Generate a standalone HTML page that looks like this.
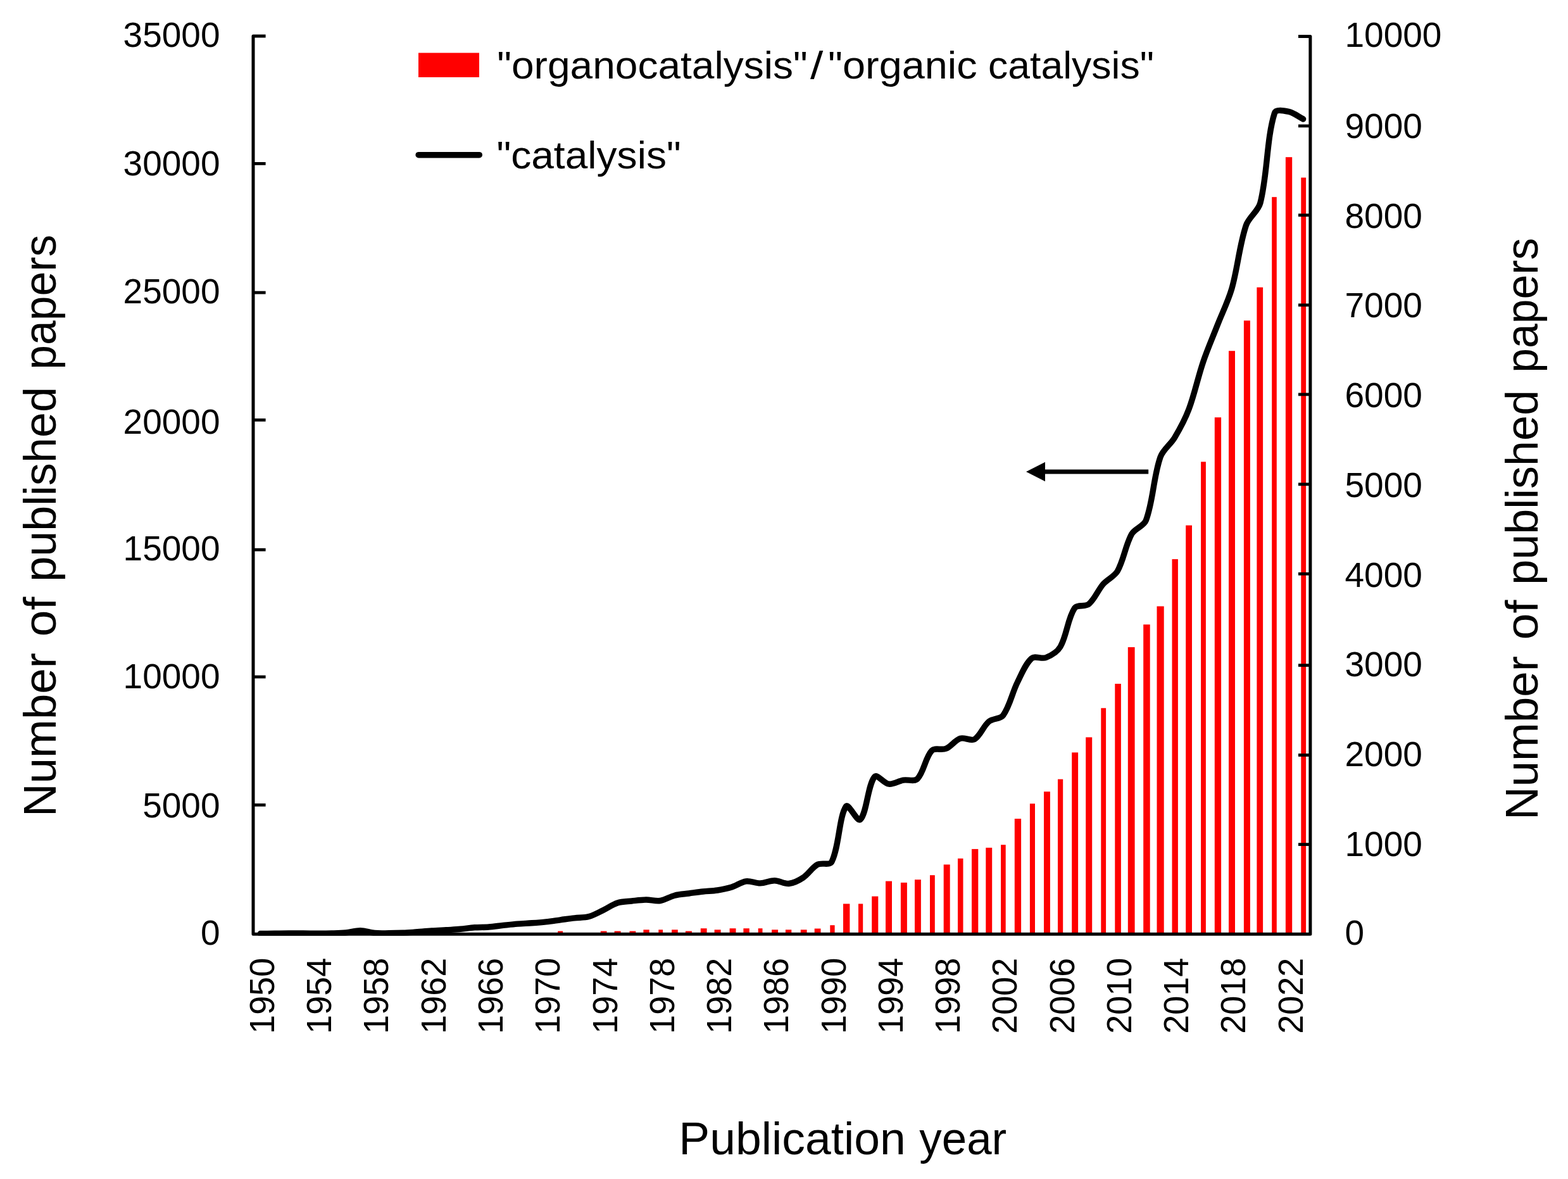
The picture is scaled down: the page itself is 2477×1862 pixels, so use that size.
<!DOCTYPE html>
<html lang="en">
<head>
<meta charset="utf-8">
<title>Publications per year: catalysis vs organocatalysis</title>
<style>
html,body{margin:0;padding:0;background:#fff;}
body{width:2477px;height:1862px;overflow:hidden;}
svg{display:block;filter:blur(0.5px);}
svg text{font-family:"Liberation Sans",sans-serif;fill:#000;}
.tick{font-size:55px;}
.title{font-size:72px;}
.legend{font-size:61px;}
</style>
</head>
<body>
<svg width="2477" height="1862" viewBox="0 0 2477 1862" role="img" aria-label="Number of published papers per publication year">
<rect x="0" y="0" width="2477" height="1862" fill="#ffffff"/>
<g fill="#ff0000" shape-rendering="auto">
<rect x="881.2" y="1470.5" width="7.9" height="4.8"/>
<rect x="948.8" y="1470.5" width="9.7" height="4.8"/>
<rect x="970.6" y="1470.5" width="10.0" height="4.8"/>
<rect x="994.5" y="1470.5" width="9.8" height="4.8"/>
<rect x="1016.4" y="1468.3" width="9.3" height="7.0"/>
<rect x="1040.3" y="1468.3" width="6.8" height="7.0"/>
<rect x="1061.1" y="1468.3" width="9.7" height="7.0"/>
<rect x="1082.9" y="1470.5" width="10.0" height="4.8"/>
<rect x="1106.8" y="1466.2" width="9.8" height="9.1"/>
<rect x="1128.6" y="1468.3" width="10.0" height="7.0"/>
<rect x="1152.6" y="1466.2" width="9.9" height="9.1"/>
<rect x="1174.4" y="1466.2" width="9.4" height="9.1"/>
<rect x="1197.7" y="1466.2" width="6.8" height="9.1"/>
<rect x="1219.1" y="1468.3" width="10.0" height="7.0"/>
<rect x="1240.9" y="1468.3" width="9.4" height="7.0"/>
<rect x="1264.8" y="1468.3" width="9.8" height="7.0"/>
<rect x="1286.7" y="1466.5" width="9.8" height="8.8"/>
<rect x="1311.3" y="1461.2" width="7.3" height="14.1"/>
<rect x="1332.0" y="1427.4" width="10.4" height="47.9"/>
<rect x="1356.0" y="1427.4" width="7.2" height="47.9"/>
<rect x="1377.2" y="1415.6" width="10.1" height="59.7"/>
<rect x="1399.0" y="1391.6" width="10.0" height="83.7"/>
<rect x="1422.9" y="1393.9" width="10.0" height="81.4"/>
<rect x="1445.0" y="1389.2" width="9.9" height="86.1"/>
<rect x="1469.0" y="1382.2" width="7.8" height="93.1"/>
<rect x="1490.7" y="1365.4" width="10.0" height="109.9"/>
<rect x="1513.0" y="1355.8" width="8.5" height="119.5"/>
<rect x="1535.0" y="1340.9" width="10.3" height="134.4"/>
<rect x="1557.3" y="1338.8" width="9.9" height="136.5"/>
<rect x="1581.1" y="1334.2" width="7.6" height="141.1"/>
<rect x="1602.8" y="1293.0" width="10.3" height="182.3"/>
<rect x="1626.9" y="1269.2" width="8.1" height="206.1"/>
<rect x="1649.0" y="1250.2" width="9.9" height="225.1"/>
<rect x="1671.0" y="1230.6" width="8.2" height="244.7"/>
<rect x="1693.2" y="1188.4" width="9.9" height="286.9"/>
<rect x="1715.2" y="1164.4" width="10.0" height="310.9"/>
<rect x="1739.3" y="1118.3" width="7.8" height="357.0"/>
<rect x="1761.3" y="1079.9" width="9.6" height="395.4"/>
<rect x="1781.8" y="1022.1" width="10.8" height="453.2"/>
<rect x="1806.2" y="986.3" width="10.5" height="489.0"/>
<rect x="1827.5" y="957.5" width="11.2" height="517.8"/>
<rect x="1851.5" y="883.1" width="9.4" height="592.2"/>
<rect x="1873.2" y="829.7" width="9.8" height="645.6"/>
<rect x="1897.1" y="729.3" width="7.8" height="746.0"/>
<rect x="1918.8" y="659.2" width="10.3" height="816.1"/>
<rect x="1941.0" y="554.2" width="10.0" height="921.1"/>
<rect x="1964.9" y="506.3" width="10.0" height="969.0"/>
<rect x="1985.4" y="453.8" width="9.7" height="1021.5"/>
<rect x="2009.2" y="311.2" width="7.6" height="1164.1"/>
<rect x="2030.9" y="248.2" width="10.3" height="1227.1"/>
<rect x="2055.3" y="280.5" width="7.8" height="1194.8"/>
</g>
<clipPath id="plotclip"><rect x="0" y="0" width="2477" height="1477.8"/></clipPath>
<path d="M411.3,1474.5 C418.8,1474.4 426.3,1474.4 433.8,1474.3 C441.4,1474.2 448.9,1474.0 456.4,1474.0 C463.9,1474.0 471.5,1474.0 479.0,1474.0 C486.5,1474.0 494.0,1474.3 501.5,1474.3 C509.1,1474.3 516.6,1474.2 524.1,1474.0 C531.6,1473.8 539.2,1473.7 546.7,1473.0 C554.2,1472.3 561.7,1469.5 569.2,1469.6 C576.8,1469.7 584.2,1472.8 591.8,1473.5 C599.3,1474.2 606.9,1473.8 614.4,1473.8 C621.9,1473.8 629.4,1473.6 636.9,1473.3 C644.5,1473.0 652.0,1472.3 659.5,1471.8 C667.0,1471.2 674.5,1470.5 682.1,1470.0 C689.6,1469.5 697.1,1469.2 704.6,1468.8 C712.2,1468.3 719.7,1468.0 727.2,1467.3 C734.7,1466.6 742.2,1465.4 749.8,1464.8 C757.3,1464.3 764.8,1464.6 772.3,1464.0 C779.9,1463.4 787.4,1462.2 794.9,1461.4 C802.4,1460.6 809.9,1459.7 817.5,1459.1 C825.0,1458.5 832.5,1458.3 840.0,1457.8 C847.6,1457.2 855.1,1456.6 862.6,1455.8 C870.1,1455.0 877.7,1453.8 885.2,1452.8 C892.7,1451.8 900.2,1450.7 907.7,1449.8 C915.2,1448.9 923.1,1449.5 930.3,1447.5 C938.1,1445.4 945.4,1441.0 952.9,1437.5 C960.5,1433.9 967.5,1428.5 975.4,1426.0 C982.6,1423.7 990.5,1423.8 998.0,1423.0 C1005.5,1422.2 1013.0,1421.1 1020.6,1421.0 C1028.1,1420.9 1035.8,1423.6 1043.1,1422.5 C1050.9,1421.3 1058.0,1416.2 1065.7,1414.2 C1073.0,1412.3 1080.7,1412.0 1088.3,1411.0 C1095.8,1410.0 1103.3,1408.8 1110.8,1408.0 C1118.3,1407.2 1126.0,1407.2 1133.4,1406.0 C1141.0,1404.8 1148.6,1403.3 1156.0,1401.0 C1163.7,1398.6 1170.8,1392.9 1178.5,1391.8 C1185.8,1390.8 1193.6,1395.1 1201.1,1394.9 C1208.7,1394.7 1216.2,1390.6 1223.7,1390.7 C1231.2,1390.8 1238.9,1396.3 1246.2,1395.5 C1254.0,1394.7 1262.1,1390.5 1268.8,1386.0 C1277.2,1380.4 1282.8,1370.2 1291.4,1365.4 C1297.8,1361.8 1310.9,1367.2 1313.9,1361.0 C1325.9,1336.6 1325.3,1290.1 1336.5,1273.5 C1340.3,1267.9 1354.5,1299.0 1359.1,1294.3 C1369.6,1283.4 1370.5,1240.5 1381.6,1226.7 C1385.6,1221.8 1396.4,1237.3 1404.2,1238.2 C1411.4,1239.1 1419.1,1233.5 1426.8,1232.1 C1434.2,1230.8 1444.6,1234.9 1449.3,1230.0 C1459.7,1219.3 1461.6,1196.4 1471.9,1185.5 C1476.6,1180.5 1487.7,1185.2 1494.5,1182.3 C1502.7,1178.8 1508.7,1168.9 1517.0,1166.2 C1523.8,1164.0 1533.8,1170.9 1539.6,1167.5 C1548.8,1162.0 1553.2,1147.0 1562.2,1139.5 C1568.3,1134.4 1580.2,1135.9 1584.7,1129.7 C1595.2,1115.3 1598.8,1094.4 1607.3,1077.5 C1613.9,1064.4 1619.9,1048.2 1629.9,1039.6 C1635.0,1035.2 1645.7,1041.2 1652.4,1038.5 C1660.8,1035.1 1670.4,1029.4 1675.0,1021.5 C1685.5,1003.3 1686.5,976.9 1697.6,960.4 C1701.5,954.4 1714.5,958.8 1720.1,954.0 C1729.5,946.1 1734.3,932.2 1742.7,922.5 C1749.3,914.9 1760.3,910.6 1765.3,902.0 C1775.4,884.2 1777.8,861.2 1787.8,843.3 C1792.8,834.4 1806.9,831.1 1810.4,821.6 C1821.9,790.7 1822.0,753.6 1833.0,722.0 C1837.0,710.2 1849.1,702.2 1855.5,691.4 C1864.1,677.0 1872.2,661.9 1878.1,646.2 C1887.2,621.9 1892.3,596.0 1900.7,571.4 C1907.3,551.8 1915.7,532.8 1923.2,513.5 C1930.7,494.3 1940.1,475.7 1945.8,456.0 C1955.2,423.2 1957.7,388.0 1968.4,356.0 C1972.7,342.9 1987.5,333.9 1990.9,320.5 C2002.6,274.7 2000.5,220.0 2013.5,178.5 C2015.5,172.0 2029.0,174.9 2036.1,176.4 C2044.0,178.1 2051.1,184.1 2058.6,188.0" fill="none" stroke="#000" stroke-width="9.4" stroke-linecap="round" stroke-linejoin="round" clip-path="url(#plotclip)"/>
<g stroke="#000" stroke-width="5.0" fill="none" stroke-linecap="butt">
<path d="M419.6,56.9 H400.0 V1475.3 H2069.9 V57.5 H2051" stroke-linejoin="round"/>
<line x1="400.0" y1="258.4" x2="419.6" y2="258.4" stroke-width="4.8"/>
<line x1="400.0" y1="462.1" x2="419.6" y2="462.1" stroke-width="4.8"/>
<line x1="400.0" y1="663.3" x2="419.6" y2="663.3" stroke-width="4.8"/>
<line x1="400.0" y1="868.2" x2="419.6" y2="868.2" stroke-width="4.8"/>
<line x1="400.0" y1="1069.0" x2="419.6" y2="1069.0" stroke-width="4.8"/>
<line x1="400.0" y1="1271.3" x2="419.6" y2="1271.3" stroke-width="4.8"/>
<line x1="2051.0" y1="198.9" x2="2069.9" y2="198.9" stroke-width="4.8"/>
<line x1="2051.0" y1="339.8" x2="2069.9" y2="339.8" stroke-width="4.8"/>
<line x1="2051.0" y1="481.8" x2="2069.9" y2="481.8" stroke-width="4.8"/>
<line x1="2051.0" y1="622.9" x2="2069.9" y2="622.9" stroke-width="4.8"/>
<line x1="2051.0" y1="764.8" x2="2069.9" y2="764.8" stroke-width="4.8"/>
<line x1="2051.0" y1="906.3" x2="2069.9" y2="906.3" stroke-width="4.8"/>
<line x1="2051.0" y1="1050.7" x2="2069.9" y2="1050.7" stroke-width="4.8"/>
<line x1="2051.0" y1="1192.5" x2="2069.9" y2="1192.5" stroke-width="4.8"/>
<line x1="2051.0" y1="1333.6" x2="2069.9" y2="1333.6" stroke-width="4.8"/>
</g>
<g class="tick">
<text x="347.5" y="74.0" text-anchor="end">35000</text>
<text x="347.5" y="277.4" text-anchor="end">30000</text>
<text x="347.5" y="479.1" text-anchor="end">25000</text>
<text x="347.5" y="684.6" text-anchor="end">20000</text>
<text x="347.5" y="885.2" text-anchor="end">15000</text>
<text x="347.5" y="1087.4" text-anchor="end">10000</text>
<text x="347.5" y="1290.9" text-anchor="end">5000</text>
<text x="347.5" y="1492.0" text-anchor="end">0</text>
<text x="2124.5" y="74.0" text-anchor="start">10000</text>
<text x="2124.5" y="218.3" text-anchor="start">9000</text>
<text x="2124.5" y="359.7" text-anchor="start">8000</text>
<text x="2124.5" y="501.4" text-anchor="start">7000</text>
<text x="2124.5" y="642.8" text-anchor="start">6000</text>
<text x="2124.5" y="784.8" text-anchor="start">5000</text>
<text x="2124.5" y="926.5" text-anchor="start">4000</text>
<text x="2124.5" y="1067.8" text-anchor="start">3000</text>
<text x="2124.5" y="1210.1" text-anchor="start">2000</text>
<text x="2124.5" y="1351.5" text-anchor="start">1000</text>
<text x="2124.5" y="1492.0" text-anchor="start">0</text>
<text transform="translate(432.9,1512.8) rotate(-90)" text-anchor="end" textLength="120" lengthAdjust="spacingAndGlyphs">1950</text>
<text transform="translate(523.1,1512.8) rotate(-90)" text-anchor="end" textLength="120" lengthAdjust="spacingAndGlyphs">1954</text>
<text transform="translate(613.4,1512.8) rotate(-90)" text-anchor="end" textLength="120" lengthAdjust="spacingAndGlyphs">1958</text>
<text transform="translate(703.7,1512.8) rotate(-90)" text-anchor="end" textLength="120" lengthAdjust="spacingAndGlyphs">1962</text>
<text transform="translate(793.9,1512.8) rotate(-90)" text-anchor="end" textLength="120" lengthAdjust="spacingAndGlyphs">1966</text>
<text transform="translate(884.2,1512.8) rotate(-90)" text-anchor="end" textLength="120" lengthAdjust="spacingAndGlyphs">1970</text>
<text transform="translate(974.5,1512.8) rotate(-90)" text-anchor="end" textLength="120" lengthAdjust="spacingAndGlyphs">1974</text>
<text transform="translate(1064.7,1512.8) rotate(-90)" text-anchor="end" textLength="120" lengthAdjust="spacingAndGlyphs">1978</text>
<text transform="translate(1155.0,1512.8) rotate(-90)" text-anchor="end" textLength="120" lengthAdjust="spacingAndGlyphs">1982</text>
<text transform="translate(1245.3,1512.8) rotate(-90)" text-anchor="end" textLength="120" lengthAdjust="spacingAndGlyphs">1986</text>
<text transform="translate(1335.5,1512.8) rotate(-90)" text-anchor="end" textLength="120" lengthAdjust="spacingAndGlyphs">1990</text>
<text transform="translate(1425.8,1512.8) rotate(-90)" text-anchor="end" textLength="120" lengthAdjust="spacingAndGlyphs">1994</text>
<text transform="translate(1516.1,1512.8) rotate(-90)" text-anchor="end" textLength="120" lengthAdjust="spacingAndGlyphs">1998</text>
<text transform="translate(1606.3,1512.8) rotate(-90)" text-anchor="end" textLength="120" lengthAdjust="spacingAndGlyphs">2002</text>
<text transform="translate(1696.6,1512.8) rotate(-90)" text-anchor="end" textLength="120" lengthAdjust="spacingAndGlyphs">2006</text>
<text transform="translate(1786.9,1512.8) rotate(-90)" text-anchor="end" textLength="120" lengthAdjust="spacingAndGlyphs">2010</text>
<text transform="translate(1877.1,1512.8) rotate(-90)" text-anchor="end" textLength="120" lengthAdjust="spacingAndGlyphs">2014</text>
<text transform="translate(1967.4,1512.8) rotate(-90)" text-anchor="end" textLength="120" lengthAdjust="spacingAndGlyphs">2018</text>
<text transform="translate(2057.7,1512.8) rotate(-90)" text-anchor="end" textLength="120" lengthAdjust="spacingAndGlyphs">2022</text>
</g>
<text class="title" transform="translate(88.1,1285.0) rotate(-90)"><tspan x="-5.1" textLength="259.0" lengthAdjust="spacingAndGlyphs">Number</tspan> <tspan x="279.5" textLength="62.9" lengthAdjust="spacingAndGlyphs">of</tspan> <tspan x="366.2" textLength="307.8" lengthAdjust="spacingAndGlyphs">published</tspan> <tspan x="701.2" textLength="213.2" lengthAdjust="spacingAndGlyphs">papers</tspan></text>
<text class="title" transform="translate(2429.4,1290.0) rotate(-90)"><tspan x="-5.1" textLength="259.0" lengthAdjust="spacingAndGlyphs">Number</tspan> <tspan x="279.5" textLength="62.9" lengthAdjust="spacingAndGlyphs">of</tspan> <tspan x="366.2" textLength="307.8" lengthAdjust="spacingAndGlyphs">published</tspan> <tspan x="701.2" textLength="213.2" lengthAdjust="spacingAndGlyphs">papers</tspan></text>
<text class="title" y="1823.1"><tspan x="1072.3" textLength="358.5" lengthAdjust="spacingAndGlyphs">Publication</tspan> <tspan x="1452.3" textLength="137.9" lengthAdjust="spacingAndGlyphs">year</tspan></text>
<rect x="661" y="83.5" width="96" height="38.5" fill="#ff0000"/>
<text class="legend" y="124.1"><tspan x="785.2" textLength="490.6" lengthAdjust="spacingAndGlyphs">"organocatalysis"</tspan><tspan x="1280.0" textLength="20.3" lengthAdjust="spacingAndGlyphs">/</tspan><tspan x="1308.0" textLength="235.7" lengthAdjust="spacingAndGlyphs">"organic</tspan> <tspan x="1561.0" textLength="261.9" lengthAdjust="spacingAndGlyphs">catalysis"</tspan></text>
<line x1="661.2" y1="244.7" x2="757.2" y2="244.7" stroke="#000" stroke-width="9.6" stroke-linecap="round"/>
<text class="legend" y="266.1"><tspan x="784.4" textLength="291.3" lengthAdjust="spacingAndGlyphs">"catalysis"</tspan></text>
<line x1="1648" y1="745" x2="1814.2" y2="745" stroke="#000" stroke-width="7.0"/>
<polygon points="1621,745 1651,729.8 1651,760.3" fill="#000"/>
</svg>
</body>
</html>
